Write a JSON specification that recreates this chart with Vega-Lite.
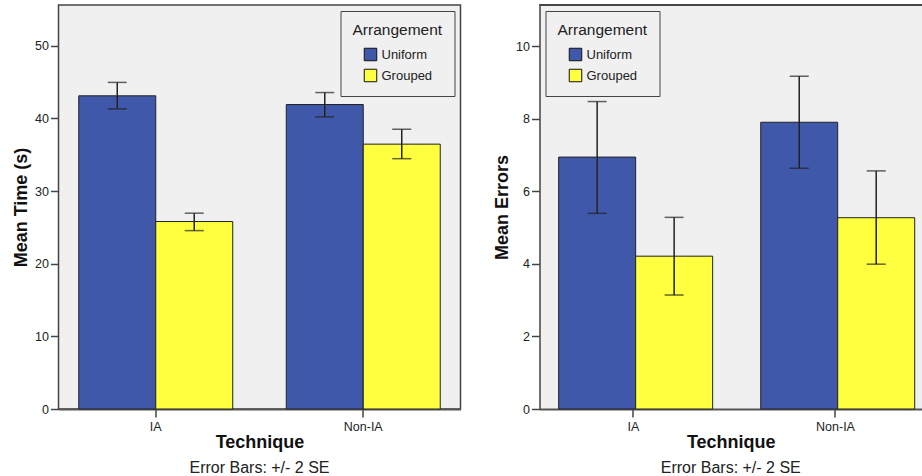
{
  "$schema": "https://vega.github.io/schema/vega-lite/v6.json",
  "padding": {"left": 11.5, "top": 4, "right": 0, "bottom": 0},
  "bounds": "flush",
  "spacing": 79,
  "background": "white",
  "datasets": {
    "time": [
      {"Technique": "IA", "Arrangement": "Uniform", "Mean": 43.1, "Low": 41.3, "High": 44.95},
      {"Technique": "IA", "Arrangement": "Grouped", "Mean": 25.8, "Low": 24.55, "High": 26.95},
      {"Technique": "Non-IA", "Arrangement": "Uniform", "Mean": 41.9, "Low": 40.2, "High": 43.55},
      {"Technique": "Non-IA", "Arrangement": "Grouped", "Mean": 36.45, "Low": 34.45, "High": 38.5}
    ],
    "errors": [
      {"Technique": "IA", "Arrangement": "Uniform", "Mean": 6.94, "Low": 5.39, "High": 8.47},
      {"Technique": "IA", "Arrangement": "Grouped", "Mean": 4.21, "Low": 3.14, "High": 5.28},
      {"Technique": "Non-IA", "Arrangement": "Uniform", "Mean": 7.9, "Low": 6.63, "High": 9.17},
      {"Technique": "Non-IA", "Arrangement": "Grouped", "Mean": 5.27, "Low": 3.99, "High": 6.56}
    ]
  },
  "resolve": {"scale": {"color": "independent"}, "legend": {"color": "independent"}},
  "hconcat": [
    {
      "width": 402,
      "height": 404,
      "data": {"name": "time"},
      "title": {"text": "Error Bars: +/- 2 SE", "orient": "bottom", "frame": "group", "anchor": "middle", "fontSize": 16, "fontWeight": "normal", "font": "Liberation Sans", "color": "#222", "offset": 8},
      "encoding": {
        "x": {"field": "Technique", "type": "nominal", "sort": ["IA", "Non-IA"], "scale": {"paddingInner": 0.258, "paddingOuter": 0.0976}, "axis": {"title": "Technique"}},
        "xOffset": {"field": "Arrangement", "type": "nominal", "sort": ["Uniform", "Grouped"]}
      },
      "layer": [
        {
          "mark": {"type": "bar", "stroke": "#222", "strokeWidth": 1},
          "encoding": {
            "y": {"field": "Mean", "type": "quantitative", "title": "Mean Time (s)", "scale": {"domain": [0, 55.6], "nice": false}, "axis": {"values": [0, 10, 20, 30, 40, 50]}},
            "color": {"field": "Arrangement", "type": "nominal", "sort": ["Uniform", "Grouped"], "scale": {"domain": ["Uniform", "Grouped"], "range": ["#3F58AA", "#FFFF40"]},
              "legend": {"orient": "top-right", "offset": 6, "title": "Arrangement"}}
          }
        },
        {
          "mark": {"type": "rule", "color": "#222", "strokeWidth": 1.5},
          "encoding": {"y": {"field": "Low", "type": "quantitative", "title": "Mean Time (s)"}, "y2": {"field": "High"}}
        },
        {
          "mark": {"type": "tick", "color": "#222", "thickness": 1.5, "size": 19},
          "encoding": {"y": {"field": "Low", "type": "quantitative", "title": "Mean Time (s)"}}
        },
        {
          "mark": {"type": "tick", "color": "#222", "thickness": 1.5, "size": 19},
          "encoding": {"y": {"field": "High", "type": "quantitative", "title": "Mean Time (s)"}}
        }
      ]
    },
    {
      "width": 382.5,
      "height": 404,
      "data": {"name": "errors"},
      "view": {"stroke": null},
      "title": {"text": "Error Bars: +/- 2 SE", "orient": "bottom", "frame": "group", "anchor": "middle", "fontSize": 16, "fontWeight": "normal", "font": "Liberation Sans", "color": "#222", "offset": 8},
      "layer": [
        {
          "encoding": {
            "x": {"field": "Technique", "type": "nominal", "sort": ["IA", "Non-IA"], "scale": {"paddingInner": 0.26, "paddingOuter": 0.0765, "align": 0.62}, "axis": {"title": "Technique"}},
            "xOffset": {"field": "Arrangement", "type": "nominal", "sort": ["Uniform", "Grouped"]}
          },
          "layer": [
            {
              "mark": {"type": "bar", "stroke": "#222", "strokeWidth": 1},
              "encoding": {
                "y": {"field": "Mean", "type": "quantitative", "title": "Mean Errors", "scale": {"domain": [0, 11.13], "nice": false}, "axis": {"values": [0, 2, 4, 6, 8, 10], "domain": true, "domainColor": "#444", "domainWidth": 1.5}},
                "color": {"field": "Arrangement", "type": "nominal", "sort": ["Uniform", "Grouped"], "scale": {"domain": ["Uniform", "Grouped"], "range": ["#3F58AA", "#FFFF40"]},
                  "legend": {"orient": "top-left", "offset": 6, "title": "Arrangement"}}
              }
            },
            {
              "mark": {"type": "rule", "color": "#222", "strokeWidth": 1.5},
              "encoding": {"y": {"field": "Low", "type": "quantitative", "title": "Mean Errors"}, "y2": {"field": "High"}}
            },
            {
              "mark": {"type": "tick", "color": "#222", "thickness": 1.5, "size": 19},
              "encoding": {"y": {"field": "Low", "type": "quantitative", "title": "Mean Errors"}}
            },
            {
              "mark": {"type": "tick", "color": "#222", "thickness": 1.5, "size": 19},
              "encoding": {"y": {"field": "High", "type": "quantitative", "title": "Mean Errors"}}
            }
          ]
        },
        {
          "mark": {"type": "rule", "color": "#444", "strokeWidth": 1.5},
          "encoding": {"y": {"datum": 11.13, "type": "quantitative", "title": "Mean Errors"}}
        }
      ]
    }
  ],
  "config": {
    "font": "Liberation Sans",
    "view": {"fill": "#F0F0F0", "stroke": "#444", "strokeWidth": 1.5},
    "axis": {
      "labelFont": "Liberation Sans", "labelFontSize": 12.5, "labelColor": "#222", "labelPadding": 2,
      "tickColor": "#444", "tickSize": 8, "tickWidth": 1.5, "grid": false, "domain": false,
      "titleFont": "Liberation Sans", "titleFontSize": 18, "titleFontWeight": "bold", "titleColor": "#111"
    },
    "axisY": {"titlePadding": 4},
    "axisX": {"labelAngle": 0, "domain": true, "domainColor": "#555", "domainWidth": 2, "titlePadding": 1, "labelPadding": 3},
    "legend": {
      "padding": 12, "strokeColor": "#444", "fillColor": "#F0F0F0", "cornerRadius": 0,
      "titleFont": "Liberation Sans", "titleFontSize": 15.5, "titleFontWeight": "normal", "titleColor": "#222", "titlePadding": 9,
      "labelFont": "Liberation Sans", "labelFontSize": 13, "labelColor": "#222", "labelOffset": 4,
      "symbolType": "square", "symbolSize": 156, "symbolStrokeColor": "#111", "symbolStrokeWidth": 1, "symbolOpacity": 1,
      "rowPadding": 3, "symbolOffset": 11
    }
  }
}
